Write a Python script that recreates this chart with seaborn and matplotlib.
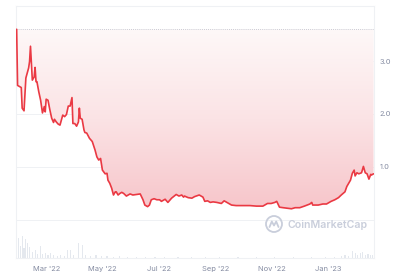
import numpy as np
import pandas as pd
import matplotlib
matplotlib.use("Agg")
import matplotlib.pyplot as plt
import matplotlib.dates as mdates
from matplotlib.colors import LinearSegmentedColormap
from matplotlib.patches import Ellipse
from matplotlib.lines import Line2D
import seaborn as sns

# ---------------- data ----------------
start_date = "2022-01-28"
price_days = [0, 1, 3, 5, 6, 8, 10, 13, 14, 15, 16, 17, 19, 20, 21, 22, 24, 26, 28, 30,
              31, 32, 34, 36, 38, 40, 41, 43, 45, 47, 49, 50, 52, 54, 56, 58, 60, 61, 63, 65,
              67, 68, 69, 71, 73, 74, 76, 79, 82, 85, 87, 89, 91, 93, 96, 98, 99, 101, 103, 105,
              107, 108, 110, 112, 114, 116, 119, 123, 126, 130, 134, 137, 139, 142, 144, 146, 149, 152, 155, 157,
              161, 164, 168, 173, 176, 179, 181, 182, 186, 190, 193, 198, 202, 204, 207, 210, 213, 217, 222, 225,
              228, 233, 238, 245, 253, 260, 267, 272, 276, 280, 282, 285, 289, 294, 298, 302, 307, 312, 318, 320,
              321, 327, 332, 336, 341, 345, 349, 352, 356, 358, 361, 362, 364, 366, 367, 369, 371, 374, 376, 378,
              380, 382, 384, 385, 387]
price = [3.60, 2.54, 2.52, 2.50, 2.11, 2.06, 2.68, 2.87, 2.99, 3.28, 2.96, 2.64, 2.70, 2.88, 2.61, 2.61, 2.42, 2.26, 2.02, 2.14,
         2.04, 2.28, 2.26, 2.08, 1.92, 1.84, 1.90, 1.85, 1.81, 1.79, 1.92, 1.98, 1.95, 1.99, 2.15, 2.15, 2.31, 1.82, 1.82, 1.77,
         1.85, 2.11, 1.92, 1.90, 1.70, 1.65, 1.64, 1.54, 1.48, 1.32, 1.19, 1.13, 1.16, 0.94, 0.87, 0.88, 0.75, 0.69, 0.60, 0.47,
         0.53, 0.53, 0.47, 0.50, 0.52, 0.50, 0.45, 0.49, 0.47, 0.48, 0.49, 0.38, 0.28, 0.25, 0.28, 0.38, 0.40, 0.38, 0.38, 0.35,
         0.39, 0.33, 0.41, 0.48, 0.45, 0.47, 0.43, 0.45, 0.42, 0.41, 0.44, 0.47, 0.43, 0.35, 0.36, 0.33, 0.34, 0.33, 0.31, 0.36,
         0.33, 0.28, 0.27, 0.27, 0.27, 0.26, 0.26, 0.31, 0.31, 0.33, 0.35, 0.24, 0.23, 0.22, 0.21, 0.23, 0.23, 0.26, 0.30, 0.33,
         0.28, 0.28, 0.30, 0.30, 0.35, 0.38, 0.42, 0.47, 0.53, 0.63, 0.72, 0.75, 0.88, 0.94, 0.83, 0.89, 0.87, 0.89, 1.01, 0.89,
         0.87, 0.77, 0.86, 0.85, 0.87]

volume_days = [0, 2, 4, 6, 8, 10, 12, 14, 17, 20, 23, 26, 28, 31, 34, 37, 40, 44, 48, 52,
               55, 58, 62, 67, 71, 75, 80, 86, 92, 98, 105, 112, 120, 130, 140, 150, 160, 175, 190, 205,
               220, 240, 260, 280, 300, 320, 335, 345, 352, 356, 360, 364, 367, 370, 373, 375, 378, 381, 384, 386]
volume = [36, 20, 12, 22, 10, 19, 15, 11, 6, 8, 4, 12, 4, 5, 3, 5, 3, 2, 3, 2,
          8, 8, 3, 15, 13, 3, 2, 3, 2, 2, 1.5, 2, 1.5, 1.5, 1, 1, 1, 1, 1, 1,
          1, 1, 1, 1, 1, 1, 1, 1.5, 2, 3, 2, 7, 5, 3, 5, 6, 3, 4, 3, 3]

tick_dates = ["2022-03-01", "2022-05-01", "2022-07-01", "2022-09-01", "2022-11-01", "2023-01-01"]
tick_labels = ["Mar '22", "May '22", "Jul '22", "Sep '22", "Nov '22", "Jan '23"]
y_ticks = [0, 1, 2, 3]
y_tick_labels = ["", "1.0", "2.0", "3.0"]

# ---------------- build ----------------
sns.set_style("white")
plt.rcParams["font.family"] = ["Inter", "DejaVu Sans"]

t0 = pd.Timestamp(start_date)
df = pd.DataFrame({"date": t0 + pd.to_timedelta(price_days, unit="D"), "price": price})
vdf = pd.DataFrame({"date": t0 + pd.to_timedelta(volume_days, unit="D"), "volume": volume})

W, H = 420, 280
fig = plt.figure(figsize=(W / 100, H / 100), dpi=100)
L, R, T, B = 16, 374, 6, 258
ax = fig.add_axes([L / W, 1 - B / H, (R - L) / W, (B - T) / H])
ax2 = ax.twinx()

# volume bars (behind)
ax2.bar(vdf["date"], vdf["volume"], width=1.2, color="#e4e8ee", linewidth=0)
ax2.set_ylim(0, max(volume) * (B - T) / 36)
ax2.set_yticks([])
for s in ax2.spines.values():
    s.set_visible(False)

ax.set_zorder(ax2.get_zorder() + 1)
ax.patch.set_visible(False)

base = price[0]
ymin, ymax = -0.72, 4.04
xlo = mdates.date2num(df["date"].iloc[0]) - 0.7
xhi = mdates.date2num(df["date"].iloc[-1]) + 0.5

# gradient fill between line and baseline
poly = ax.fill_between(df["date"], df["price"], base, color="none", linewidth=0)
cmap = LinearSegmentedColormap.from_list("g", ["#fef8f8", "#fbe3e5", "#f7c5ca"])
grad = np.linspace(0, 1, 256).reshape(-1, 1)
im = ax.imshow(grad, cmap=cmap, aspect="auto", origin="upper",
               extent=[xlo, xhi, min(price), base], zorder=1)
im.set_clip_path(poly.get_paths()[0], transform=ax.transData)

# baseline dotted
ax.axhline(base, color="#b9bdc9", linewidth=0.6, linestyle=(0, (1, 1.5)), zorder=2)

sns.lineplot(data=df, x="date", y="price", ax=ax, color="#ea3943", linewidth=1.2, zorder=3)

ax.set_xlim(xlo, xhi)
ax.set_ylim(ymin, ymax)
ax.set_xlabel("")
ax.set_ylabel("")

ax.set_yticks(y_ticks)
ax.set_yticklabels(y_tick_labels)
ax.yaxis.tick_right()
ax.grid(axis="y", color="#eff1f4", linewidth=0.7)
ax.grid(axis="x", visible=False)
ax.set_axisbelow(True)
ax.set_xticks(mdates.date2num(pd.to_datetime(tick_dates)))
ax.set_xticklabels(tick_labels)
ax.tick_params(axis="both", length=0, labelsize=5.4, labelcolor="#858ca2")
ax.tick_params(axis="x", pad=6)
ax.tick_params(axis="y", pad=4)
for s in ax.spines.values():
    s.set_color("#eff1f4")
    s.set_linewidth(0.8)

# watermark
wm = "#c9cedb"
cx, cy, r = 274, 224, 8
fig.patches.append(Ellipse((cx / W, 1 - cy / H), 2 * r / W, 2 * r / H, transform=fig.transFigure,
                           fill=False, edgecolor=wm, linewidth=1.3))
px = np.array([-4.5, -2.2, 0.0, 2.2, 4.5])
py = np.array([-3.0, 2.5, -1.5, 2.5, -3.0])
fig.lines.append(Line2D((cx + px) / W, 1 - (cy - py) / H, transform=fig.transFigure,
                        color=wm, linewidth=1.3))
fig.text(288 / W, 1 - 225 / H, "CoinMarketCap", fontsize=7.6, fontweight="semibold",
         color=wm, va="center", ha="left")

fig.savefig("out.png", dpi=100)
